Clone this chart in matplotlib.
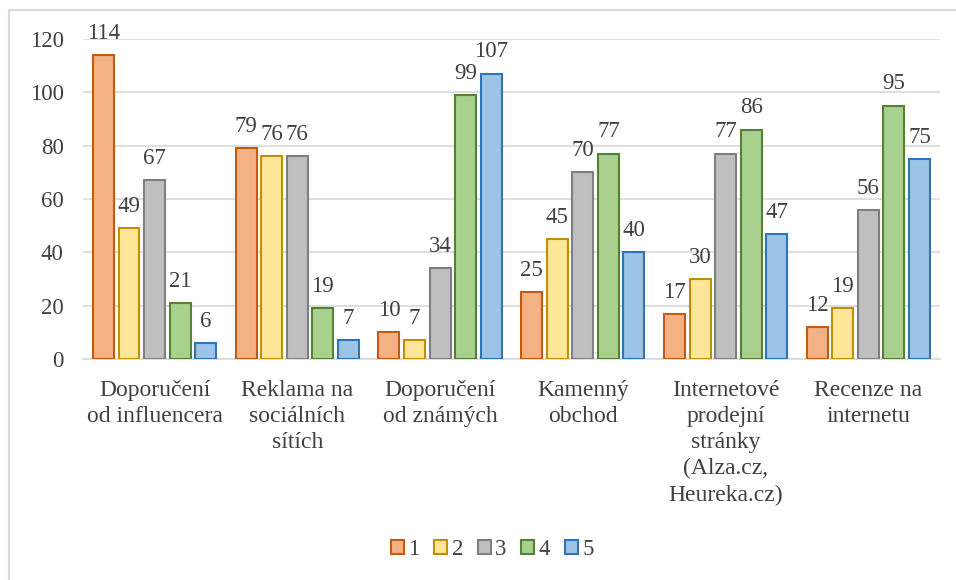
#!/usr/bin/env python3
"""plot.py — grouped bar chart of ratings per information source."""

import matplotlib
matplotlib.use("Agg")
import matplotlib.pyplot as plt
import numpy as np
from matplotlib.lines import Line2D

plt.rcParams["font.family"] = ["Liberation Serif", "DejaVu Serif"]

categories = [
    "Doporučení\nod influencera",
    "Reklama na\nsociálních\nsítích",
    "Doporučení\nod známých",
    "Kamenný\nobchod",
    "Internetové\nprodejní\nstránky\n(Alza.cz,\nHeureka.cz)",
    "Recenze na\ninternetu",
]
series_names = ["1", "2", "3", "4", "5"]
values = [
    [114, 79, 10, 25, 17, 12],
    [49, 76, 7, 45, 30, 19],
    [67, 76, 34, 70, 77, 56],
    [21, 19, 99, 77, 86, 95],
    [6, 7, 107, 40, 47, 75],
]
fills = ["#F4B183", "#FFE699", "#BFBFBF", "#A9D18E", "#9DC3E6"]
edges = ["#C55A11", "#BF9000", "#7F7F7F", "#548235", "#2E75B6"]
TEXT = "#404040"


def main() -> None:
    fig = plt.figure(figsize=(9.56, 5.8), dpi=100)
    ax = fig.add_axes([0.087, 0.381, 0.896, 0.552])
    # chart frame: only the left and top edges show
    frame = dict(color="#D9D9D9", linewidth=1.5, transform=fig.transFigure)
    fig.lines.append(Line2D([0.009, 0.009], [0.0, 0.983], **frame))
    fig.lines.append(Line2D([0.009, 1.0], [0.983, 0.983], **frame))

    x = np.arange(len(categories))
    step = 0.179
    width = 0.147
    for i, (name, vals) in enumerate(zip(series_names, values)):
        offs = (i - 2) * step
        bars = ax.bar(x + offs, vals, width, color=fills[i], edgecolor=edges[i],
                      linewidth=1.5, label=name, zorder=3)
        ax.bar_label(bars, padding=8, fontsize=16.5, color=TEXT)

    ax.set_xlim(-0.5, len(categories) - 0.5)
    ax.set_ylim(0, 120)
    ax.set_yticks(range(0, 121, 20))
    ax.set_xticks(x)
    ax.set_xticklabels(categories, fontsize=17, color=TEXT, linespacing=1.32, va="top")
    ax.tick_params(axis="y", labelsize=16.5, colors=TEXT, length=0, pad=14)
    ax.tick_params(axis="x", length=0, pad=15)
    ax.grid(axis="y", color="#D9D9D9", linewidth=1.2, zorder=0)
    for s in ["top", "right", "left"]:
        ax.spines[s].set_visible(False)
    ax.spines["bottom"].set_color("#D9D9D9")
    ax.spines["bottom"].set_linewidth(1.2)

    fig.legend(loc="center", bbox_to_anchor=(0.515, 0.052), ncol=5, frameon=False,
               fontsize=16.5, handlelength=0.55, handleheight=0.55, handletextpad=0.2,
               columnspacing=0.65, labelcolor=TEXT)

    fig.savefig("out.png", dpi=100)


if __name__ == "__main__":
    main()
